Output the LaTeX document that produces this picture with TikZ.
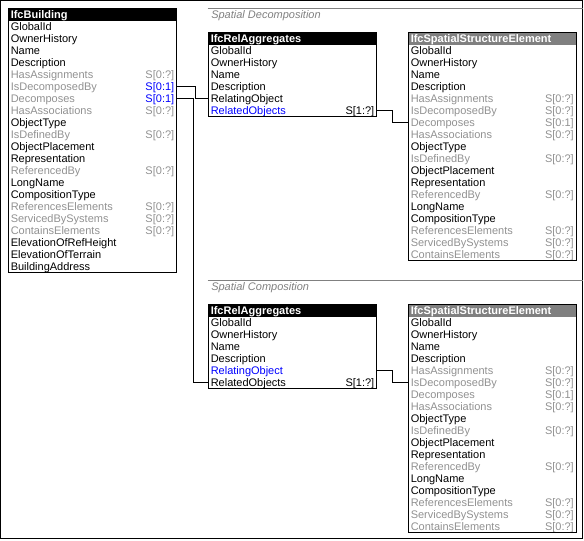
\documentclass[tikz,border=0pt]{standalone}
\usepackage{fontspec}
\setmainfont{Liberation Sans}
\definecolor{G}{RGB}{145,145,145}
\definecolor{B}{RGB}{0,0,255}
\definecolor{K}{RGB}{0,0,0}
\definecolor{H}{RGB}{128,128,128}
\tikzset{
  hdr/.style={inner sep=0pt, text=white, font=\fontsize{8.25pt}{9pt}\selectfont\bfseries},
  rowtxt/.style={inner sep=0pt, font=\fontsize{8.25pt}{9pt}\selectfont},
  boxline/.style={draw=black, line width=0.75pt},
  conn/.style={draw=black, line width=0.75pt},
  sect/.style={inner sep=0pt, text=H, font=\fontsize{8.25pt}{9pt}\selectfont\itshape, anchor=base west},
}
\newcommand\ifcbox[7]{%
  \fill[#6] (#2,#3) rectangle ++(#4,12);
  \node[hdr, anchor=base west] (#1-h) at ({#2+2},{#3+10}) {#5};
  \foreach \lab/\lc/\card/\cc [count=\i] in {#7} {
    \node[rowtxt, text=\lc, anchor=base west] (#1-\i) at ({#2+2},{#3+12*\i+10}) {\lab};
    \node[rowtxt, text=\cc, anchor=base east] (#1-c\i) at ({#2+#4-2},{#3+12*\i+10}) {\card};
    \coordinate (#1-\i-w) at (#2,{#3+12*\i+6});
    \coordinate (#1-\i-e) at ({#2+#4},{#3+12*\i+6});
    \xdef\nrows{\i}
  }
  \draw[boxline] (#2,#3) rectangle ({#2+#4},{#3+12+12*\nrows});
}
\begin{document}
\begin{tikzpicture}[x=0.75pt,y=-0.75pt]
\useasboundingbox (0,0) rectangle (584,540);
\draw[line width=0.75pt] (0.5,0.5) rectangle (582.5,538.5);

% section headers
\draw[H, line width=0.75pt] (207.5,8.5) -- (582.5,8.5);
\node[sect] (secA) at (211,18.5) {Spatial Decomposition};
\draw[H, line width=0.75pt] (207.5,280.5) -- (582.5,280.5);
\node[sect] (secB) at (211,290.5) {Spatial Composition};

\ifcbox{bld}{8.5}{8.5}{168}{IfcBuilding}{black}{
GlobalId/K/{}/K, OwnerHistory/K/{}/K, Name/K/{}/K, Description/K/{}/K,
HasAssignments/G/{S[0:?]}/G, IsDecomposedBy/G/{S[0:1]}/B, Decomposes/G/{S[0:1]}/B,
HasAssociations/G/{S[0:?]}/G, ObjectType/K/{}/K, IsDefinedBy/G/{S[0:?]}/G,
ObjectPlacement/K/{}/K, Representation/K/{}/K, ReferencedBy/G/{S[0:?]}/G,
LongName/K/{}/K, CompositionType/K/{}/K, ReferencesElements/G/{S[0:?]}/G,
ServicedBySystems/G/{S[0:?]}/G, ContainsElements/G/{S[0:?]}/G,
ElevationOfRefHeight/K/{}/K, ElevationOfTerrain/K/{}/K, BuildingAddress/K/{}/K}

\ifcbox{raA}{208.5}{32.5}{168}{IfcRelAggregates}{black}{
GlobalId/K/{}/K, OwnerHistory/K/{}/K, Name/K/{}/K, Description/K/{}/K,
RelatingObject/K/{}/K, RelatedObjects/B/{S[1:?]}/K}

\ifcbox{sseA}{408.5}{32.5}{167.5}{IfcSpatialStructureElement}{H}{
GlobalId/K/{}/K, OwnerHistory/K/{}/K, Name/K/{}/K, Description/K/{}/K,
HasAssignments/G/{S[0:?]}/G, IsDecomposedBy/G/{S[0:?]}/G, Decomposes/G/{S[0:1]}/G,
HasAssociations/G/{S[0:?]}/G, ObjectType/K/{}/K, IsDefinedBy/G/{S[0:?]}/G,
ObjectPlacement/K/{}/K, Representation/K/{}/K, ReferencedBy/G/{S[0:?]}/G,
LongName/K/{}/K, CompositionType/K/{}/K, ReferencesElements/G/{S[0:?]}/G,
ServicedBySystems/G/{S[0:?]}/G, ContainsElements/G/{S[0:?]}/G}

\ifcbox{raB}{208.5}{304.5}{168}{IfcRelAggregates}{black}{
GlobalId/K/{}/K, OwnerHistory/K/{}/K, Name/K/{}/K, Description/K/{}/K,
RelatingObject/B/{}/K, RelatedObjects/K/{S[1:?]}/K}

\ifcbox{sseB}{408.5}{304.5}{167.5}{IfcSpatialStructureElement}{H}{
GlobalId/K/{}/K, OwnerHistory/K/{}/K, Name/K/{}/K, Description/K/{}/K,
HasAssignments/G/{S[0:?]}/G, IsDecomposedBy/G/{S[0:?]}/G, Decomposes/G/{S[0:1]}/G,
HasAssociations/G/{S[0:?]}/G, ObjectType/K/{}/K, IsDefinedBy/G/{S[0:?]}/G,
ObjectPlacement/K/{}/K, Representation/K/{}/K, ReferencedBy/G/{S[0:?]}/G,
LongName/K/{}/K, CompositionType/K/{}/K, ReferencesElements/G/{S[0:?]}/G,
ServicedBySystems/G/{S[0:?]}/G, ContainsElements/G/{S[0:?]}/G}

% connectors
\draw[conn] (bld-6-e) -- ++(18.5,0) |- (raA-5-w);
\draw[conn] (bld-7-e) -- ++(16.5,0) |- (raB-6-w);
\draw[conn] (raA-6-e) -- ++(16,0) |- (sseA-7-w);
\draw[conn] (raB-5-e) -- ++(16,0) |- (sseB-6-w);
\end{tikzpicture}
\end{document}
